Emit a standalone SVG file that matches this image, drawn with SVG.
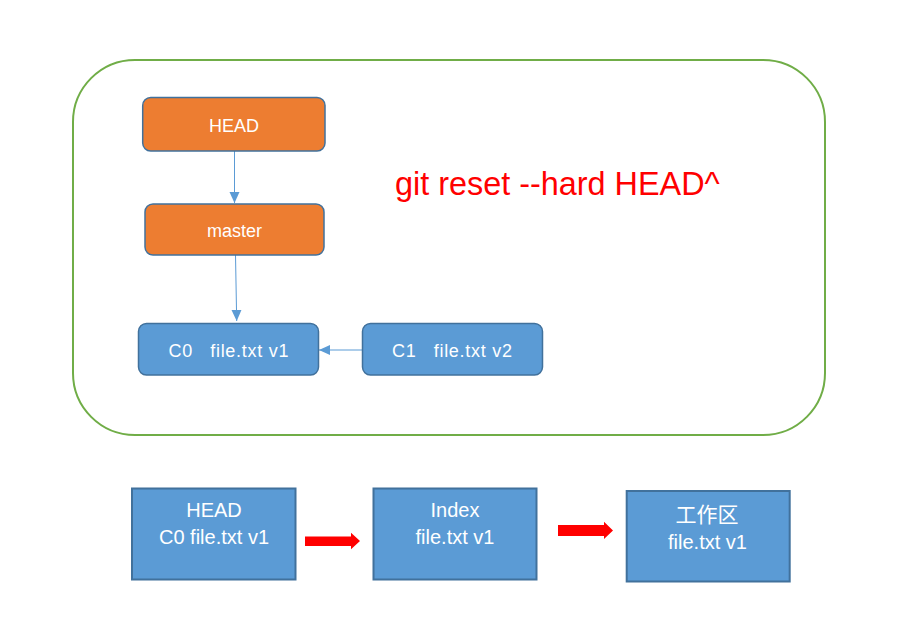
<svg xmlns="http://www.w3.org/2000/svg" width="922" height="629" viewBox="0 0 922 629">
<style>
.frame{fill:none;stroke:#70AD47;stroke-width:2}
.orange{fill:#ED7D31;stroke:#41719C;stroke-width:1.5}
.blue{fill:#5B9BD5;stroke:#41719C;stroke-width:1.5}
.sq{fill:#5B9BD5;stroke:#41719C;stroke-width:2}
.t{font-family:"Liberation Sans",Arial,sans-serif;font-size:18px;fill:#FFFFFF;text-anchor:middle;white-space:pre}
.t2{font-family:"Liberation Sans",Arial,sans-serif;font-size:20px;fill:#FFFFFF;text-anchor:middle}
.cjk{font-family:"Noto Sans CJK SC",sans-serif;font-size:21px;fill:#FFFFFF;text-anchor:middle}
.conn{stroke:#5B9BD5;stroke-width:1;fill:none}
.red{fill:#FF0000}
</style>
<defs>
<marker id="ah" markerUnits="userSpaceOnUse" markerWidth="12" markerHeight="12" viewBox="0 0 12 12" refX="11" refY="6" orient="auto">
<path d="M0,1 L11,6 L0,11 Z" fill="#5B9BD5"/>
</marker>
</defs>
<rect width="922" height="629" fill="#FFFFFF"/>
<rect class="frame" x="73" y="60" width="752" height="375" rx="62" ry="62"/>
<text x="395" y="195" font-family="'Liberation Sans',Arial,sans-serif" font-size="32.4" fill="#FF0000">git reset --hard HEAD^</text>
<g id="connectors">
<line class="conn" x1="234.5" y1="151" x2="234.5" y2="203" marker-end="url(#ah)"/>
<line class="conn" x1="235.5" y1="255" x2="236.7" y2="321" marker-end="url(#ah)"/>
<line class="conn" x1="362" y1="350" x2="319" y2="350" marker-end="url(#ah)"/>
<polygon class="red" points="305,536.5 351,536.5 351,532.7 360,541 351,549.3 351,546 305,546"/>
<polygon class="red" points="558,525 604,525 604,521.7 613,530.5 604,539 604,536 558,536"/>
</g>
<g id="head">
<rect class="orange" x="142.7" y="97.5" width="182.3" height="53.5" rx="8"/>
<text class="t" x="234" y="131.7">HEAD</text>
</g>
<g id="master">
<rect class="orange" x="145" y="204" width="179" height="51" rx="8"/>
<text class="t" x="234.5" y="236.7">master</text>
</g>
<g id="c0">
<rect class="blue" x="138.5" y="323.5" width="180" height="51.5" rx="8"/>
<text class="t" x="228.5" y="356.7" textLength="120" lengthAdjust="spacing">C0   file.txt v1</text>
</g>
<g id="c1">
<rect class="blue" x="362.5" y="323.5" width="180" height="51.5" rx="8"/>
<text class="t" x="452" y="356.7" textLength="120" lengthAdjust="spacing">C1   file.txt v2</text>
</g>
<g id="head-box">
<rect class="sq" x="132" y="488.5" width="163.5" height="91"/>
<text class="t2" x="214" y="517.3">HEAD</text>
<text class="t2" x="214" y="544">C0 file.txt v1</text>
</g>
<g id="index-box">
<rect class="sq" x="373.5" y="488.5" width="163" height="91"/>
<text class="t2" x="455" y="517.3">Index</text>
<text class="t2" x="455" y="544">file.txt v1</text>
</g>
<g id="work-box">
<rect class="sq" x="626.7" y="491" width="163" height="90.5"/>
<text class="cjk" x="707" y="522">工作区</text>
<text class="t2" x="707.5" y="548.7">file.txt v1</text>
</g>
</svg>
